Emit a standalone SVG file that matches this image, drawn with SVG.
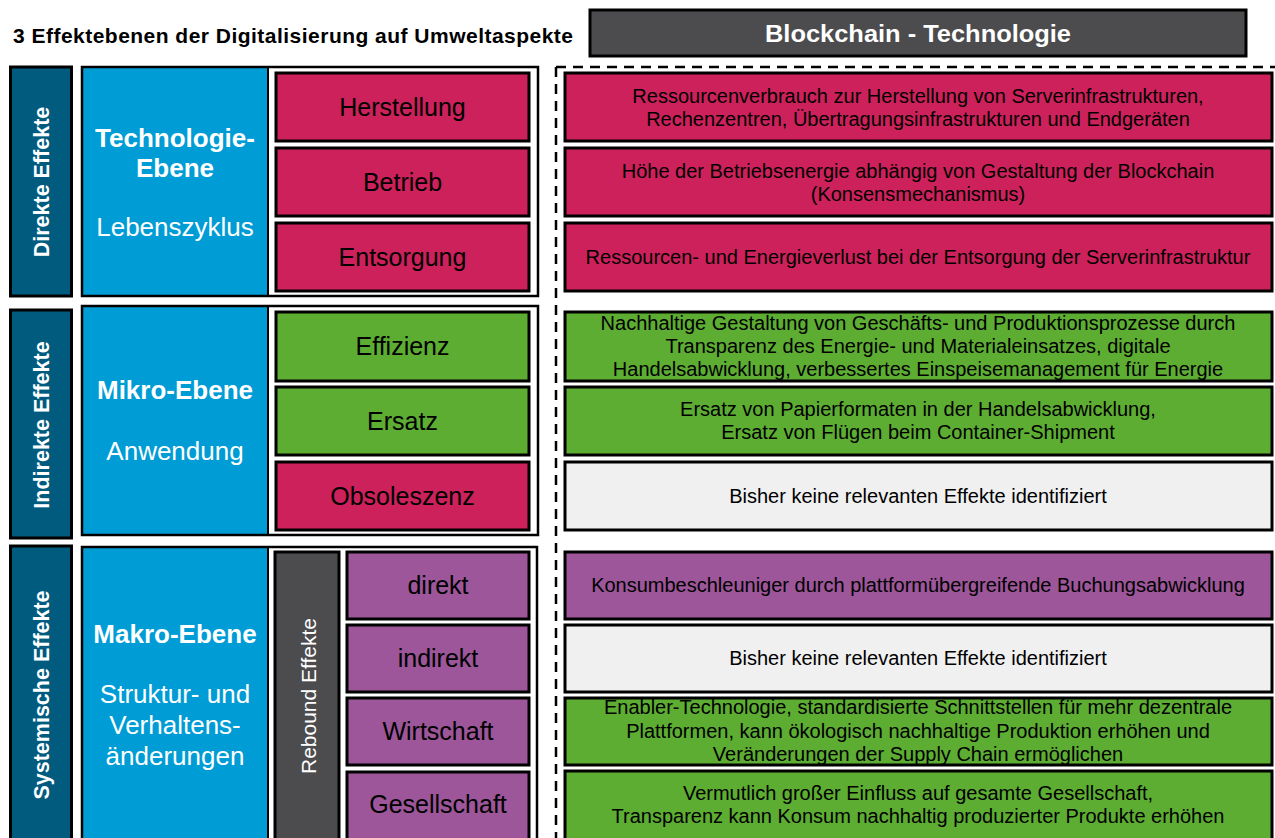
<svg xmlns="http://www.w3.org/2000/svg" width="1275" height="838" viewBox="0 0 1275 838">
<style>
text { font-family: "Liberation Sans", Arial, sans-serif; }
.title { font-size: 21px; font-weight: bold; fill: #000; }
.hdr { fill: #4C4C4E; stroke: #000; stroke-width: 3; }
.hdrt { font-size: 23px; font-weight: bold; fill: #fff; text-anchor: middle; }
.side { fill: #005B7F; stroke: #000; stroke-width: 3; }
.sidet { font-size: 21.5px; font-weight: bold; fill: #fff; text-anchor: middle; }
.lvl { fill: #009CD5; }
.frame { fill: none; stroke: #000; stroke-width: 2.5; }
.lvlb { font-size: 26px; font-weight: bold; fill: #fff; text-anchor: middle; }
.lvln { font-size: 26px; fill: #fff; text-anchor: middle; }
.red { fill: #CD215B; stroke: #000; stroke-width: 3; }
.grn { fill: #5DAD33; stroke: #000; stroke-width: 3; }
.pur { fill: #9C5699; stroke: #000; stroke-width: 3; }
.gry { fill: #F0F0F0; stroke: #000; stroke-width: 3; }
.dk { fill: #4C4C4E; stroke: #000; stroke-width: 3; }
.it { font-size: 25px; fill: #000; text-anchor: middle; }
.reb { font-size: 21px; fill: #fff; text-anchor: middle; }
.rt { font-size: 20px; fill: #000; text-anchor: middle; }
.dash { fill: none; stroke: #000; stroke-width: 2.5; stroke-dasharray: 10 7; }
</style>
<rect width="1275" height="838" fill="#fff"/>

<g id="title">
<text class="title" x="13" y="43" textLength="560" lengthAdjust="spacing">3 Effektebenen der Digitalisierung auf Umweltaspekte</text>
</g>

<g id="header">
<rect class="hdr" x="590" y="10" width="656" height="46"/>
<text class="hdrt" x="918" y="42" textLength="306" lengthAdjust="spacingAndGlyphs">Blockchain - Technologie</text>
</g>

<g id="connectors">
<path class="dash" d="M556,67 H1275 M556,67 V838"/>
</g>

<!-- Row 1 -->
<g id="side-direkt">
<rect class="side" x="10.5" y="67" width="61" height="229"/>
<text class="sidet" transform="translate(49,182) rotate(-90)">Direkte Effekte</text>
</g>
<g id="level-technologie">
<rect class="lvl" x="82" y="67" width="186" height="229"/>
<rect class="frame" x="82" y="67" width="456" height="229"/>
<line x1="268" y1="67" x2="268" y2="296" stroke="#000" stroke-width="2"/>
<text class="lvlb" x="175" y="147">Technologie-</text>
<text class="lvlb" x="175" y="177">Ebene</text>
<text class="lvln" x="175" y="236">Lebenszyklus</text>
</g>
<g id="item-herstellung"><rect class="red" x="276" y="73" width="253" height="68"/><text class="it" x="402.5" y="116">Herstellung</text></g>
<g id="item-betrieb"><rect class="red" x="276" y="148" width="253" height="68"/><text class="it" x="402.5" y="191">Betrieb</text></g>
<g id="item-entsorgung"><rect class="red" x="276" y="223" width="253" height="68"/><text class="it" x="402.5" y="266">Entsorgung</text></g>

<!-- Row 2 -->
<g id="side-indirekt">
<rect class="side" x="10.5" y="310" width="61" height="228"/>
<text class="sidet" transform="translate(49,425) rotate(-90)">Indirekte Effekte</text>
</g>
<g id="level-mikro">
<rect class="lvl" x="82" y="306" width="186" height="229"/>
<rect class="frame" x="82" y="306" width="456" height="229"/>
<line x1="268" y1="306" x2="268" y2="535" stroke="#000" stroke-width="2"/>
<text class="lvlb" x="175" y="399">Mikro-Ebene</text>
<text class="lvln" x="175" y="460">Anwendung</text>
</g>
<g id="item-effizienz"><rect class="grn" x="276" y="312" width="253" height="69"/><text class="it" x="402.5" y="355">Effizienz</text></g>
<g id="item-ersatz"><rect class="grn" x="276" y="387" width="253" height="68"/><text class="it" x="402.5" y="430">Ersatz</text></g>
<g id="item-obsoleszenz"><rect class="red" x="276" y="462" width="253" height="68"/><text class="it" x="402.5" y="505">Obsoleszenz</text></g>

<!-- Row 3 -->
<g id="side-systemisch">
<rect class="side" x="10.5" y="546" width="61" height="310"/>
<text class="sidet" transform="translate(49,695) rotate(-90)">Systemische Effekte</text>
</g>
<g id="level-makro">
<rect class="lvl" x="82" y="547" width="186" height="310"/>
<rect class="frame" x="82" y="547" width="455" height="310"/>
<line x1="268" y1="547" x2="268" y2="838" stroke="#000" stroke-width="2"/>
<text class="lvlb" x="175" y="643">Makro-Ebene</text>
<text class="lvln" x="175" y="703">Struktur- und</text>
<text class="lvln" x="175" y="734">Verhaltens-</text>
<text class="lvln" x="175" y="765">änderungen</text>
</g>
<g id="rebound">
<rect class="dk" x="275" y="552" width="64" height="310"/>
<text class="reb" transform="translate(316,696) rotate(-90)">Rebound Effekte</text>
</g>
<g id="item-direkt"><rect class="pur" x="347" y="552" width="182" height="67"/><text class="it" x="438" y="594">direkt</text></g>
<g id="item-indirekt"><rect class="pur" x="347" y="625" width="182" height="67"/><text class="it" x="438" y="667">indirekt</text></g>
<g id="item-wirtschaft"><rect class="pur" x="347" y="698" width="182" height="67"/><text class="it" x="438" y="740">Wirtschaft</text></g>
<g id="item-gesellschaft"><rect class="pur" x="347" y="772" width="182" height="80"/><text class="it" x="438" y="813">Gesellschaft</text></g>

<!-- Right column -->
<g id="desc-herstellung"><rect class="red" x="565" y="73" width="707" height="68"/>
<text class="rt" x="918" y="102.5">Ressourcenverbrauch zur Herstellung von Serverinfrastrukturen,</text>
<text class="rt" x="918" y="125.5">Rechenzentren, Übertragungsinfrastrukturen und Endgeräten</text></g>
<g id="desc-betrieb"><rect class="red" x="565" y="148" width="707" height="68"/>
<text class="rt" x="918" y="177.5">Höhe der Betriebsenergie abhängig von Gestaltung der Blockchain</text>
<text class="rt" x="918" y="200.5">(Konsensmechanismus)</text></g>
<g id="desc-entsorgung"><rect class="red" x="565" y="223" width="707" height="68"/>
<text class="rt" x="918" y="264">Ressourcen- und Energieverlust bei der Entsorgung der Serverinfrastruktur</text></g>
<g id="desc-effizienz"><rect class="grn" x="565" y="312" width="707" height="69"/>
<text class="rt" x="918" y="330">Nachhaltige Gestaltung von Geschäfts- und Produktionsprozesse durch</text>
<text class="rt" x="918" y="353">Transparenz des Energie- und Materialeinsatzes, digitale</text>
<text class="rt" x="918" y="376">Handelsabwicklung, verbessertes Einspeisemanagement für Energie</text></g>
<g id="desc-ersatz"><rect class="grn" x="565" y="387" width="707" height="68"/>
<text class="rt" x="918" y="416">Ersatz von Papierformaten in der Handelsabwicklung,</text>
<text class="rt" x="918" y="439">Ersatz von Flügen beim Container-Shipment</text></g>
<g id="desc-obsoleszenz"><rect class="gry" x="565" y="462" width="707" height="68"/>
<text class="rt" x="918" y="503">Bisher keine relevanten Effekte identifiziert</text></g>
<g id="desc-direkt"><rect class="pur" x="565" y="552" width="707" height="67"/>
<text class="rt" x="918" y="592">Konsumbeschleuniger durch plattformübergreifende Buchungsabwicklung</text></g>
<g id="desc-indirekt"><rect class="gry" x="565" y="625" width="707" height="67"/>
<text class="rt" x="918" y="665">Bisher keine relevanten Effekte identifiziert</text></g>
<g id="desc-wirtschaft"><rect class="grn" x="565" y="698" width="707" height="67"/>
<text class="rt" x="918" y="714">Enabler-Technologie, standardisierte Schnittstellen für mehr dezentrale</text>
<text class="rt" x="918" y="737.5">Plattformen, kann ökologisch nachhaltige Produktion erhöhen und</text>
<text class="rt" x="918" y="761">Veränderungen der Supply Chain ermöglichen</text></g>
<g id="desc-gesellschaft"><rect class="grn" x="565" y="771" width="707" height="80"/>
<text class="rt" x="918" y="800">Vermutlich großer Einfluss auf gesamte Gesellschaft,</text>
<text class="rt" x="918" y="823">Transparenz kann Konsum nachhaltig produzierter Produkte erhöhen</text></g>
</svg>
